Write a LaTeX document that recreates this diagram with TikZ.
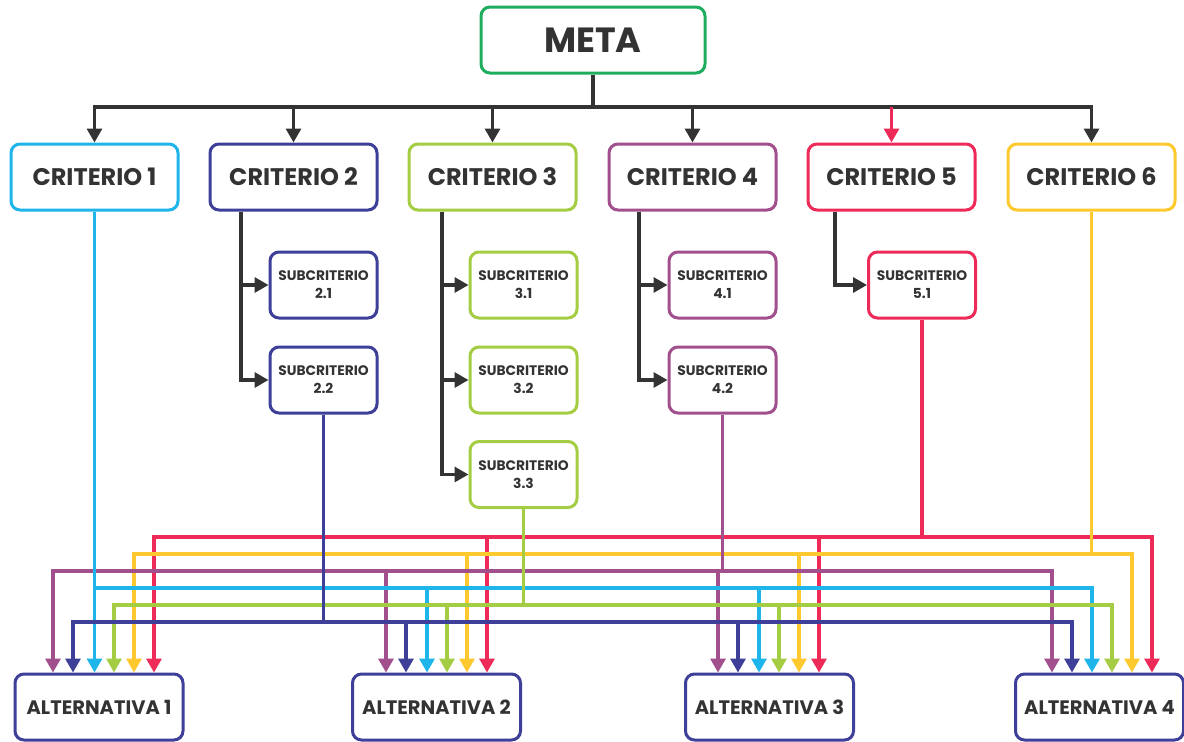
\documentclass[tikz,border=0pt]{standalone}
\usepackage{fontspec}
\setmainfont{Poppins}
\usetikzlibrary{arrows.meta}
\definecolor{cmeta}{HTML}{1EAD5E}
\definecolor{ccyan}{HTML}{1DB5EA}
\definecolor{cnavy}{HTML}{3D3F98}
\definecolor{clime}{HTML}{A5CD43}
\definecolor{cpurp}{HTML}{A24F8D}
\definecolor{cred}{HTML}{EE2B58}
\definecolor{cyell}{HTML}{FEC92E}
\definecolor{cgray}{HTML}{333333}
\begin{document}
\begin{tikzpicture}[x=1pt,y=-1pt,
  box/.style={draw, line width=3pt, rounded corners=9pt, fill=white, inner sep=0pt, text=cgray},
  metabox/.style={box, draw=cmeta, minimum width=224pt, minimum height=66pt, font=\fontsize{35}{38}\selectfont\bfseries},
  crit/.style={box, minimum width=167pt, minimum height=66pt, font=\fontsize{24}{26}\selectfont\bfseries},
  sub/.style={box, minimum width=107pt, minimum height=66pt, align=center, font=\fontsize{13.8}{18}\selectfont\bfseries},
  alt/.style={box, draw=cnavy, minimum width=168pt, minimum height=66pt, font=\fontsize{19.5}{22}\selectfont\bfseries},
  link/.style={line width=3.2pt},
  tip/.style={-{Triangle[length=14pt,width=15pt]}},
]
\useasboundingbox (0,0) rectangle (1184,742);
\fill[white] (0,0) rectangle (1184,742);

% nodes
\node[metabox] (meta) at (593,40) {META};
\node[crit, draw=ccyan] (c1) at (94.5,177) {CRITERIO 1};
\node[crit, draw=cnavy] (c2) at (293.5,177) {CRITERIO 2};
\node[crit, draw=clime] (c3) at (492.5,177) {CRITERIO 3};
\node[crit, draw=cpurp] (c4) at (692.5,177) {CRITERIO 4};
\node[crit, draw=cred]  (c5) at (891.5,177) {CRITERIO 5};
\node[crit, draw=cyell] (c6) at (1091.5,177) {CRITERIO 6};

\node[sub, draw=cnavy] (s21) at (323.5,285) {SUBCRITERIO\\2.1};
\node[sub, draw=cnavy] (s22) at (323.5,380) {SUBCRITERIO\\2.2};
\node[sub, draw=clime] (s31) at (523.5,285) {SUBCRITERIO\\3.1};
\node[sub, draw=clime] (s32) at (523.5,380) {SUBCRITERIO\\3.2};
\node[sub, draw=clime] (s33) at (523.5,474.5) {SUBCRITERIO\\3.3};
\node[sub, draw=cpurp] (s41) at (722.5,285) {SUBCRITERIO\\4.1};
\node[sub, draw=cpurp] (s42) at (722.5,380) {SUBCRITERIO\\4.2};
\node[sub, draw=cred]  (s51) at (922,285) {SUBCRITERIO\\5.1};

\node[alt] (a1) at (99,707) {ALTERNATIVA 1};
\node[alt] (a2) at (436.5,707) {ALTERNATIVA 2};
\node[alt] (a3) at (769.5,707) {ALTERNATIVA 3};
\node[alt] (a4) at (1099.5,707) {ALTERNATIVA 4};

% goal to criteria
\coordinate (tb) at (meta.south |- 0,107);
\draw[link,cgray] (meta.south) -- (tb);
\foreach \c in {c1,c2,c3,c4,c6} \draw[link,cgray,tip] (tb) -| (\c.north);
\draw[link,cred,tip] (tb -| c5.north) -- (c5.north);

% criteria to subcriteria
\draw[link,cgray,tip] (c2.south -| 241,0) |- (s21.west);
\draw[link,cgray,tip] (c2.south -| 241,0) |- (s22.west);
\draw[link,cgray,tip] (c3.south -| 442,0) |- (s31.west);
\draw[link,cgray,tip] (c3.south -| 442,0) |- (s32.west);
\draw[link,cgray,tip] (c3.south -| 442,0) |- (s33.west);
\draw[link,cgray,tip] (c4.south -| 639,0) |- (s41.west);
\draw[link,cgray,tip] (c4.south -| 639,0) |- (s42.west);
\draw[link,cgray,tip] (c5.south -| 835,0) |- (s51.west);

% red: subcriterio 5.1
\coordinate (rb) at (s51.south |- 0,537);
\draw[link,cred] (s51.south) -- (rb);
\foreach \x/\a in {154/a1,487/a2,819/a3,1152/a4} \draw[link,cred,tip] (rb) -| (\a.north -| \x,0);

% yellow: criterio 6
\coordinate (yb) at (c6.south |- 0,554);
\draw[link,cyell] (c6.south) -- (yb);
\foreach \x/\a in {134/a1,467/a2,799/a3,1132/a4} \draw[link,cyell,tip] (yb) -| (\a.north -| \x,0);

% purple: subcriterio 4.2
\coordinate (pb) at (s42.south |- 0,571);
\draw[link,cpurp] (s42.south) -- (pb);
\foreach \x/\a in {53/a1,386/a2,718/a3,1052/a4} \draw[link,cpurp,tip] (pb) -| (\a.north -| \x,0);

% cyan: criterio 1
\coordinate (cb) at (c1.south |- 0,588);
\draw[link,ccyan,tip] (c1.south) -- (a1.north -| c1.south);
\foreach \x/\a in {427/a2,759/a3,1092/a4} \draw[link,ccyan,tip] (cb) -| (\a.north -| \x,0);

% green: subcriterio 3.3
\coordinate (gb) at (s33.south |- 0,605);
\draw[link,clime] (s33.south) -- (gb);
\foreach \x/\a in {114/a1,447/a2,779/a3,1112/a4} \draw[link,clime,tip] (gb) -| (\a.north -| \x,0);

% navy: subcriterio 2.2
\coordinate (nb) at (s22.south |- 0,622);
\draw[link,cnavy] (s22.south) -- (nb);
\foreach \x/\a in {73/a1,406/a2,738/a3,1072/a4} \draw[link,cnavy,tip] (nb) -| (\a.north -| \x,0);
\end{tikzpicture}
\end{document}
